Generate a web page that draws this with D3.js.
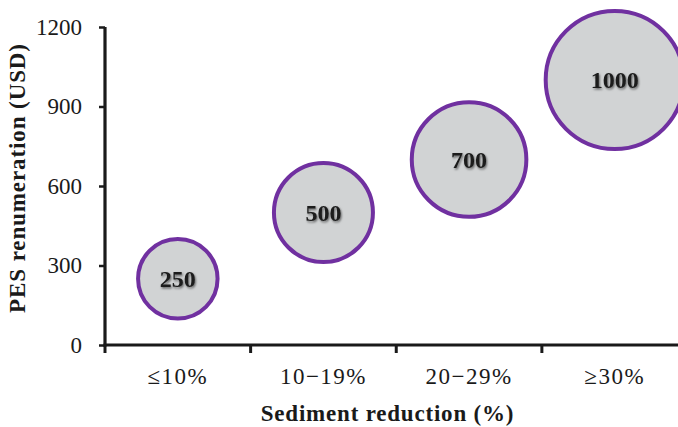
<!DOCTYPE html>
<html>
<head>
<meta charset="utf-8">
<script src="https://cdn.jsdelivr.net/npm/d3@7"></script>
<style>
  html, body { margin: 0; padding: 0; background: #fff; }
  svg { display: block; }
  text { font-family: "Liberation Serif", "Times New Roman", serif; fill: #1a1a1a; }
</style>
</head>
<body>
<svg id="chart" width="678" height="427"></svg>
<script>
// Sediment-reduction classes and the PES payment for each
const categories = ["≤10%", "10−19%", "20−29%", "≥30%"];
const payments = [250, 500, 700, 1000];
const yTicks = [0, 300, 600, 900, 1200];

const W = 678, H = 427;
const plot = { left: 105, right: 687.5, top: 27, bottom: 345 };

const svg = d3.select("#chart");

// soft shadow behind the bubble labels
const defs = svg.append("defs");
const f = defs.append("filter").attr("id", "labelShadow")
  .attr("x", "-20%").attr("y", "-30%").attr("width", "140%").attr("height", "160%");
f.append("feDropShadow").attr("dx", 1).attr("dy", 1.5)
  .attr("stdDeviation", 1.3).attr("flood-color", "#000").attr("flood-opacity", 0.55);

const x = d3.scaleBand().domain(categories).range([plot.left, plot.right]);
const y = d3.scaleLinear().domain([0, 1200]).range([plot.bottom, plot.top]);
// bubble radius grows with the payment
const r = d3.scaleLinear().domain([0, 1000]).range([30, 69]);

// bubbles
const g = svg.append("g");
categories.forEach((c, i) => {
  const cx = x(c) + x.bandwidth() / 2, cy = y(payments[i]);
  g.append("circle")
    .attr("cx", cx).attr("cy", cy).attr("r", r(payments[i]))
    .attr("fill", "#d1d3d4").attr("stroke", "#7030a0").attr("stroke-width", 4);
  g.append("text")
    .attr("x", cx).attr("y", cy).attr("dy", "0.34em")
    .attr("text-anchor", "middle")
    .attr("font-size", 24).attr("font-weight", "bold")
    .attr("fill", "#111")
    .attr("filter", "url(#labelShadow)")
    .text(payments[i]);
});

// y axis
const yAxis = svg.append("g").attr("transform", `translate(${plot.left},0)`)
  .call(d3.axisLeft(y).tickValues(yTicks).tickFormat(d3.format("d"))
    .tickSize(6).tickPadding(17).tickSizeOuter(0));
yAxis.select(".domain").attr("stroke", "#1a1a1a").attr("stroke-width", 3.2)
  .attr("d", `M0,${plot.top}V${plot.bottom + 1.5}`);
yAxis.selectAll(".tick line").attr("stroke", "#1a1a1a").attr("stroke-width", 2.5);
yAxis.selectAll(".tick text").attr("font-size", 23).attr("fill", "#1a1a1a");

// x axis: labels at band centres, ticks on band boundaries
const xAxis = svg.append("g").attr("transform", `translate(0,${plot.bottom})`)
  .call(d3.axisBottom(x).tickSize(0).tickPadding(23).tickSizeOuter(0));
xAxis.select(".domain").attr("stroke", "#1a1a1a").attr("stroke-width", 3.2)
  .attr("d", `M${plot.left - 1.5},0H${W}`);
xAxis.selectAll(".tick text").attr("font-size", 23).attr("fill", "#1a1a1a")
  .attr("letter-spacing", 1.5);
xAxis.selectAll(".boundary").data(categories).enter().append("line")
  .attr("class", "boundary")
  .attr("x1", d => x(d)).attr("x2", d => x(d))
  .attr("y1", 0).attr("y2", 8)
  .attr("stroke", "#1a1a1a").attr("stroke-width", 3);

// axis titles
svg.append("text")
  .attr("x", (plot.left + W) / 2 - 4).attr("y", 421)
  .attr("text-anchor", "middle")
  .attr("font-size", 23).attr("font-weight", "bold").attr("letter-spacing", 0.8)
  .text("Sediment reduction (%)");

svg.append("text")
  .attr("transform", "translate(25,178) rotate(-90)")
  .attr("text-anchor", "middle")
  .attr("font-size", 23).attr("font-weight", "bold").attr("letter-spacing", 0.9)
  .text("PES renumeration (USD)");
</script>
</body>
</html>
